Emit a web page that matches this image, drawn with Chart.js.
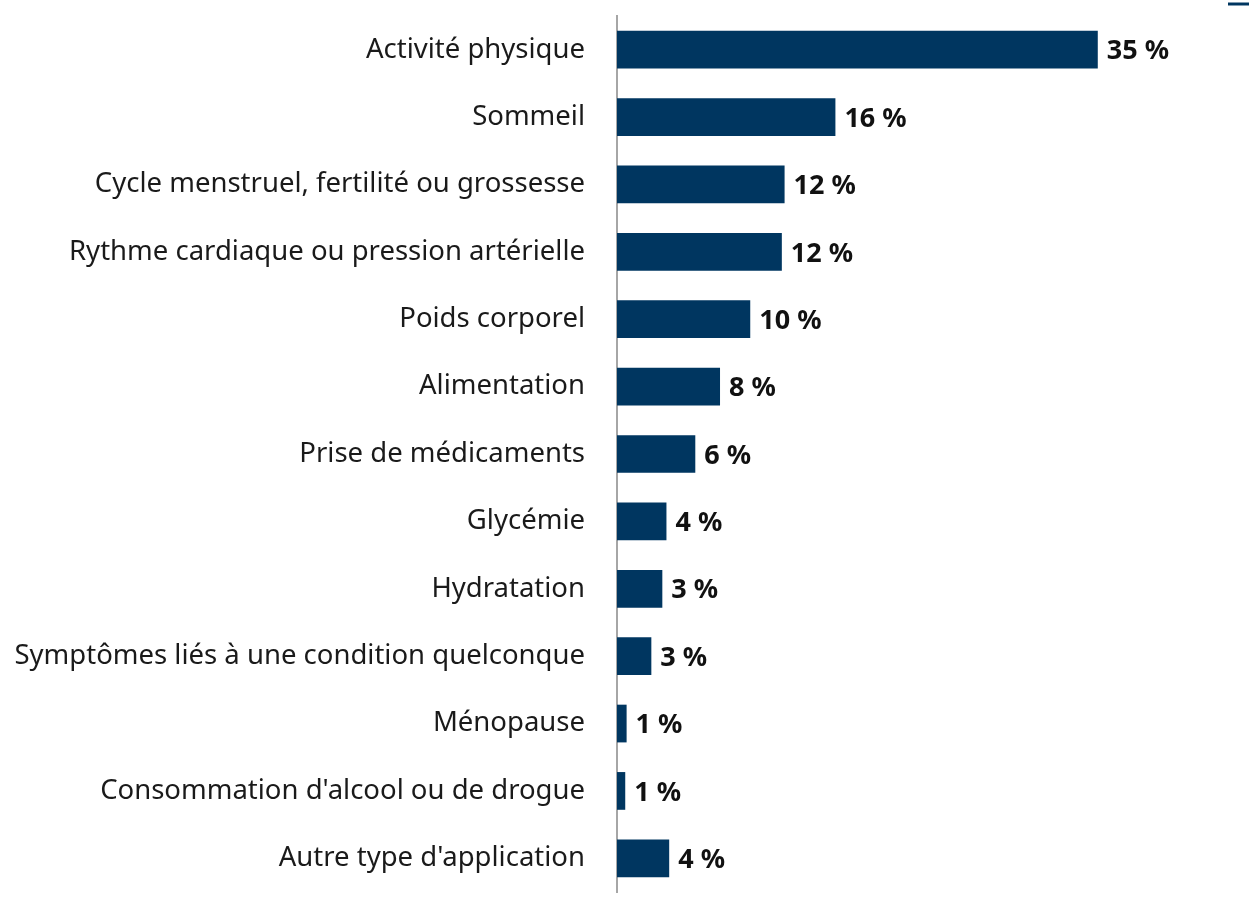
<!DOCTYPE html>
<html>
<head>
<meta charset="utf-8">
<script src="https://cdn.jsdelivr.net/npm/chart.js@4"></script>
<style>
html,body{margin:0;padding:0;background:#fff;}
#wrap{width:1253px;height:908px;position:relative;}
</style>
</head>
<body>
<div id="wrap"><canvas id="c"></canvas></div>
<script>
const categories = [
  "Activité physique",
  "Sommeil",
  "Cycle menstruel, fertilité ou grossesse",
  "Rythme cardiaque ou pression artérielle",
  "Poids corporel",
  "Alimentation",
  "Prise de médicaments",
  "Glycémie",
  "Hydratation",
  "Symptômes liés à une condition quelconque",
  "Ménopause",
  "Consommation d'alcool ou de drogue",
  "Autre type d'application"
];
const values = [35, 15.9, 12.2, 12.0, 9.7, 7.5, 5.7, 3.6, 3.3, 2.5, 0.7, 0.6, 3.8];
const valueLabels = ["35 %", "16 %", "12 %", "12 %", "10 %", "8 %", "6 %", "4 %", "3 %", "3 %", "1 %", "1 %", "4 %"];
const xMax = 46.3;

const FONT = "'Noto Sans', 'Open Sans', sans-serif";

const valueLabelPlugin = {
  id: 'valueLabels',
  afterDatasetsDraw(chart) {
    const ctx = chart.ctx;
    const meta = chart.getDatasetMeta(0);
    ctx.save();
    ctx.font = "bold 27px " + FONT;
    ctx.fillStyle = "#111111";
    ctx.textAlign = "left";
    ctx.textBaseline = "middle";
    meta.data.forEach((bar, i) => {
      ctx.fillText(valueLabels[i], bar.x + 9, bar.y + 2);
    });
    ctx.restore();
  }
};

new Chart(document.getElementById('c'), {
  type: 'bar',
  data: {
    labels: categories,
    datasets: [{
      label: '',
      data: values,
      backgroundColor: '#003660',
      borderWidth: 0,
      categoryPercentage: 1,
      barPercentage: 0.56
    }]
  },
  options: {
    indexAxis: 'y',
    responsive: true,
    maintainAspectRatio: false,
    animation: false,
    layout: { padding: { top: 0, right: 0, bottom: 16, left: 0 } },
    plugins: {
      legend: {
        display: true,
        position: 'top',
        align: 'end',
        labels: {
          boxWidth: 21,
          boxHeight: 3,
          padding: 2,
          font: { size: 4, family: FONT },
          useBorderRadius: false
        }
      },
      tooltip: { enabled: false }
    },
    scales: {
      x: {
        min: 0,
        max: xMax,
        display: false,
        grid: { display: false }
      },
      y: {
        grid: { display: false, drawTicks: false },
        border: { display: true, color: '#a6a6a6', width: 2 },
        ticks: {
          color: '#1a1a1a',
          font: { size: 27.5, family: FONT },
          padding: 32
        },
        afterFit(scale) {
          scale.paddingTop = 0;
          scale.paddingBottom = 0;
          scale.width = 617;
        }
      }
    }
  },
  plugins: [valueLabelPlugin]
});
</script>
</body>
</html>
